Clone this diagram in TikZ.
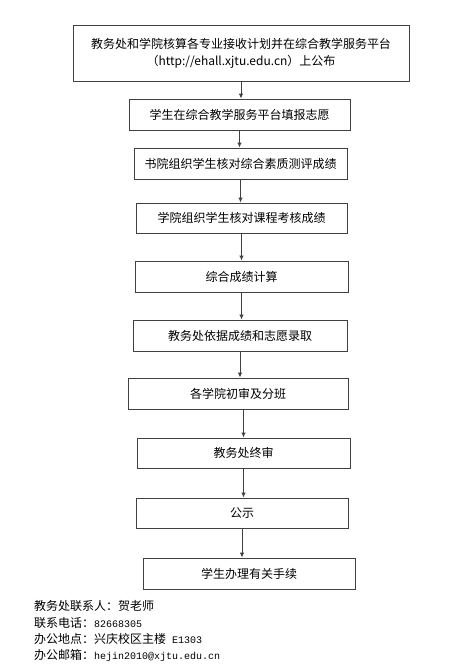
\documentclass[tikz,border=0pt]{standalone}
\usepackage{fontspec}
\setmainfont{Noto Sans CJK SC}
\newfontfamily\monof{Liberation Mono}
\usetikzlibrary{arrows.meta}
\begin{document}
\begin{tikzpicture}[x=1pt,y=-1pt,
  stepbox/.style={draw=black!75,line width=0.9pt,inner sep=0pt,font=\fontsize{12}{17}\selectfont,align=center},
  flow/.style={draw=black!75,line width=0.9pt,-{Latex[length=5pt,width=4.5pt]}},
  foot/.style={anchor=west,inner sep=0pt,font=\fontsize{12}{14}\selectfont}]
\useasboundingbox[fill=white] (0,0) rectangle (474,670);
\node[stepbox,minimum width=336pt,minimum height=56pt] (b1) at (241,53) {教务处和学院核算各专业接收计划并在综合教学服务平台\\（http://ehall.xjtu.edu.cn）上公布};
\node[stepbox,minimum width=221pt,minimum height=31pt] (b2) at (239.5,114.5) {学生在综合教学服务平台填报志愿};
\node[stepbox,minimum width=213pt,minimum height=31pt] (b3) at (240.5,163.5) {书院组织学生核对综合素质测评成绩};
\node[stepbox,minimum width=211pt,minimum height=30pt] (b4) at (241.5,218) {学院组织学生核对课程考核成绩};
\node[stepbox,minimum width=213pt,minimum height=31pt] (b5) at (241.5,276.5) {综合成绩计算};
\node[stepbox,minimum width=214pt,minimum height=31pt] (b6) at (240,335.5) {教务处依据成绩和志愿录取};
\node[stepbox,minimum width=220pt,minimum height=31pt] (b7) at (238,393.5) {各学院初审及分班};
\node[stepbox,minimum width=213pt,minimum height=30pt] (b8) at (243.5,453) {教务处终审};
\node[stepbox,minimum width=212pt,minimum height=30pt] (b9) at (242,513) {公示};
\node[stepbox,minimum width=212pt,minimum height=31pt] (b10) at (249,573.5) {学生办理有关手续};
\draw[flow] (b1.south) -- (b1.south |- b2.north);
\draw[flow] (b2.south) -- (b2.south |- b3.north);
\draw[flow] (b3.south) -- (b3.south |- b4.north);
\draw[flow] (b4.south) -- (b4.south |- b5.north);
\draw[flow] (b5.south) -- (b5.south |- b6.north);
\draw[flow] (b6.south) -- (b6.south |- b7.north);
\draw[flow] (b7.south -| b8.north) -- (b8.north);
\draw[flow] (b8.south) -- (b8.south |- b9.north);
\draw[flow] (b9.south) -- (b9.south |- b10.north);
\node[foot] (f1) at (34,606) {教务处联系人：贺老师};
\node[foot] (f2) at (34,623) {联系电话：{\monof\fontsize{10}{12}\selectfont 82668305}};
\node[foot] (f3) at (34,639) {办公地点：兴庆校区主楼{\monof\fontsize{10}{12}\selectfont\ E1303}};
\node[foot] (f4) at (34,655) {办公邮箱：{\monof\fontsize{10}{12}\selectfont hejin2010@xjtu.edu.cn}};
\end{tikzpicture}
\end{document}
